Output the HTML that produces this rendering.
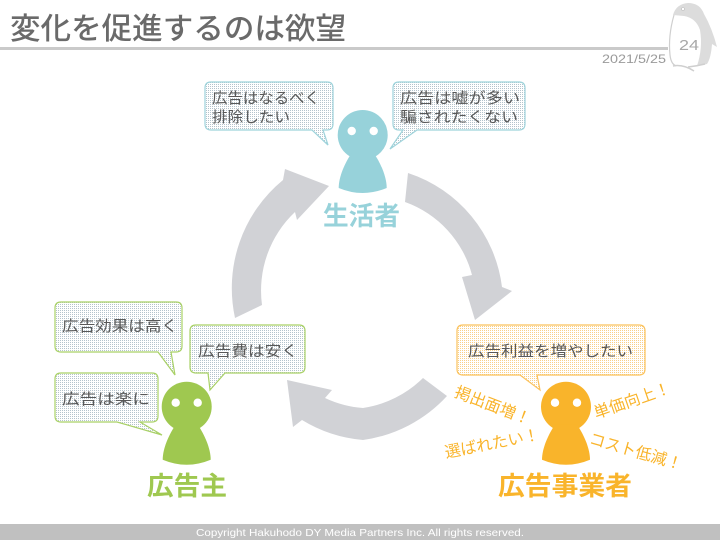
<!DOCTYPE html>
<html><head><meta charset="utf-8">
<style>
html,body{margin:0;padding:0;background:#fff;}
svg{display:block;}
text{font-family:"Liberation Sans","Noto Sans CJK JP",sans-serif;}
</style></head>
<body>
<svg width="720" height="540" viewBox="0 0 720 540" xmlns="http://www.w3.org/2000/svg">
<defs>
<pattern id="dotB" width="2" height="2" patternUnits="userSpaceOnUse"><rect width="2" height="2" fill="#fff"/><rect width="1" height="1" fill="#b4c3cc"/></pattern>
<pattern id="dotO" width="2" height="2" patternUnits="userSpaceOnUse"><rect width="2" height="2" fill="#fff"/><rect width="1" height="1" fill="#f9cf88"/></pattern>
</defs>
<rect width="720" height="540" fill="#fff"/>

<!-- title -->
<text x="10" y="39" font-size="30" font-weight="500" fill="#6a6a6a" textLength="336" lengthAdjust="spacingAndGlyphs">変化を促進するのは欲望</text>
<rect x="0" y="47" width="668" height="3" fill="#cacaca"/>
<text x="602" y="63" font-size="12" fill="#9a9a9a" textLength="64" lengthAdjust="spacingAndGlyphs">2021/5/25</text>

<!-- penguin -->
<path d="M673,15 Q676,4 688,3 Q700,3 704,14 Q712,28 717,47 L712,44 Q711,58 707,64 L697,66 Q703,48 700,30 Q696,18 684,16 Z" fill="#dcdcdc"/>
<path d="M674,15 Q668,36 670,55 Q671,64 676,66" fill="none" stroke="#cfcfcf" stroke-width="1.2"/>
<path d="M673,66 Q683,64 694,71 M688,67 Q697,66 705,64" fill="none" stroke="#cfcfcf" stroke-width="1.5"/>
<circle cx="683" cy="9" r="1.5" fill="#fff" stroke="#bdbdbd" stroke-width="0.6"/>
<text x="679" y="50" font-size="15" fill="#a8a8a8" textLength="20" lengthAdjust="spacingAndGlyphs">24</text>

<!-- cycle arrows -->
<g fill="#d1d2d6">
<path d="M235,318 A140,140 0 0 1 283,180 L285,169 L329,186 L297,220 L295,212 A108,108 0 0 0 262,305 Z"/>
<path d="M408,173 A138,138 0 0 1 502,287 L512,291 L475,320 L462,277 L472,275 A106,106 0 0 0 405,202 Z"/>
<path d="M447,396 A140,140 0 0 1 363,440 A140,140 0 0 1 302,420 L293,427 L287,380 L332,390 L325,398 A108,108 0 0 0 363,408 A108,108 0 0 0 423,378 Z"/>
</g>

<!-- teal bubbles -->
<path d="M211,82 H327 Q333,82 333,88 V124 Q333,130 327,130 H323 L328,145 L312,130 H211 Q205,130 205,124 V88 Q205,82 211,82 Z" fill="url(#dotB)" stroke="#9ed3db" stroke-width="1.2"/>
<path d="M399,82 H519 Q525,82 525,88 V124 Q525,130 519,130 H417 L390,149 L403,130 H399 Q393,130 393,124 V88 Q393,82 399,82 Z" fill="url(#dotB)" stroke="#9ed3db" stroke-width="1.2"/>
<g font-size="15" fill="#585858">
<text x="212" y="103" textLength="108" lengthAdjust="spacingAndGlyphs">広告はなるべく</text>
<text x="212" y="122" textLength="78" lengthAdjust="spacingAndGlyphs">排除したい</text>
<text x="400" y="103" textLength="120" lengthAdjust="spacingAndGlyphs">広告は嘘が多い</text>
<text x="400" y="122" textLength="118" lengthAdjust="spacingAndGlyphs">騙されたくない</text>
</g>

<!-- green bubbles -->
<path d="M61,302 H176 Q182,302 182,308 V346 Q182,352 176,352 H171 L175,375 L158,352 H61 Q55,352 55,346 V308 Q55,302 61,302 Z" fill="url(#dotB)" stroke="#a9d166" stroke-width="1.2"/>
<path d="M61,373 H152 Q158,373 158,379 V416 Q158,422 152,422 H140 L162,435 L117,422 H61 Q55,422 55,416 V379 Q55,373 61,373 Z" fill="url(#dotB)" stroke="#a9d166" stroke-width="1.2"/>
<path d="M196,325 H299 Q305,325 305,331 V367 Q305,373 299,373 H225 L210,390 L208,373 H196 Q190,373 190,367 V331 Q190,325 196,325 Z" fill="url(#dotB)" stroke="#a9d166" stroke-width="1.2"/>
<g font-size="15" fill="#585858">
<text x="62" y="331" textLength="116" lengthAdjust="spacingAndGlyphs">広告効果は高く</text>
<text x="62" y="404" textLength="88" lengthAdjust="spacingAndGlyphs">広告は楽に</text>
<text x="198" y="356" textLength="100" lengthAdjust="spacingAndGlyphs">広告費は安く</text>
</g>

<!-- orange bubble -->
<path d="M463,325 H639 Q645,325 645,331 V369 Q645,375 639,375 H537 L540,390 L520,375 H463 Q457,375 457,369 V331 Q457,325 463,325 Z" fill="url(#dotO)" stroke="#fbc25c" stroke-width="1.2"/>
<text x="468" y="356" font-size="15" fill="#585858" textLength="165" lengthAdjust="spacingAndGlyphs">広告利益を増やしたい</text>

<!-- figures -->
<g transform="translate(362.7,135)" fill="#97d2da">
<circle r="25"/>
<path d="M-11,18 C-18,28 -24,42 -24,53 Q0,63 24,53 C24,42 18,28 11,18 Z"/>
<circle cx="-11" cy="-4" r="4.2" fill="#fff"/><circle cx="11" cy="-4" r="4.2" fill="#fff"/>
</g>
<g transform="translate(186.7,406.7)" fill="#9fc850">
<circle r="25"/>
<path d="M-11,18 C-18,28 -24,42 -24,53 Q0,63 24,53 C24,42 18,28 11,18 Z"/>
<circle cx="-11" cy="-4" r="4.2" fill="#fff"/><circle cx="11" cy="-4" r="4.2" fill="#fff"/>
</g>
<g transform="translate(566,406.7)" fill="#f9b42b">
<circle r="25"/>
<path d="M-11,18 C-18,28 -24,42 -24,53 Q0,63 24,53 C24,42 18,28 11,18 Z"/>
<circle cx="-11" cy="-4" r="4.2" fill="#fff"/><circle cx="11" cy="-4" r="4.2" fill="#fff"/>
</g>

<!-- labels -->
<text x="361.5" y="225" font-size="26" font-weight="700" fill="#97d2da" text-anchor="middle" textLength="77" lengthAdjust="spacingAndGlyphs">生活者</text>
<text x="187" y="495" font-size="26" font-weight="700" fill="#9fc850" text-anchor="middle" textLength="80" lengthAdjust="spacingAndGlyphs">広告主</text>
<text x="565" y="495" font-size="26" font-weight="700" fill="#f9b42b" text-anchor="middle" textLength="134" lengthAdjust="spacingAndGlyphs">広告事業者</text>

<!-- orange rotated texts -->
<g font-size="16" fill="#f9b42b" text-anchor="middle">
<text transform="translate(493,405) rotate(21)" x="0" y="6">掲出面増！</text>
<text transform="translate(492,443) rotate(-11)" x="0" y="6">選ばれたい！</text>
<text transform="translate(632,400) rotate(-19)" x="0" y="6">単価向上！</text>
<text transform="translate(636,451) rotate(16)" x="0" y="6">コスト低減！</text>
</g>

<!-- footer -->
<rect x="0" y="524" width="720" height="16" fill="#c0c0c0"/>
<text x="360" y="536" font-size="10.5" fill="#fff" text-anchor="middle" textLength="328" lengthAdjust="spacingAndGlyphs">Copyright Hakuhodo DY Media Partners Inc. All rights reserved.</text>
</svg>
</body></html>
